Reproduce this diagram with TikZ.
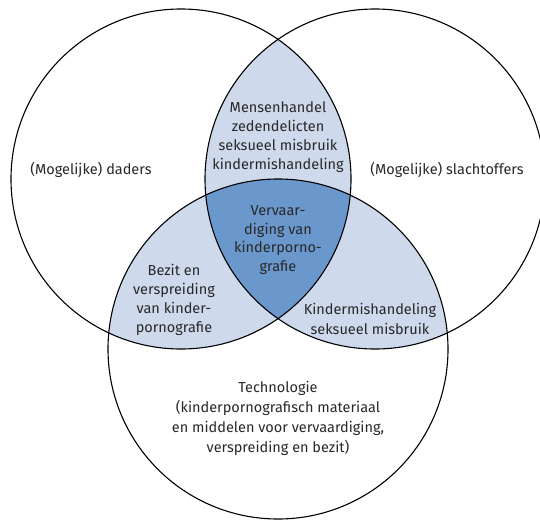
\documentclass[tikz,border=0pt]{standalone}
\usepackage{fontspec}
\setmainfont{Fira Sans}[Scale=1]
\definecolor{lightblue}{RGB}{206,217,236}
\definecolor{darkblue}{RGB}{106,151,204}
\definecolor{txt}{RGB}{40,40,40}
\begin{document}
\begin{tikzpicture}[x=1pt,y=-1pt,
  lbl/.style={align=center,font=\fontsize{14.5}{19.2}\selectfont,text=txt,inner sep=0pt},
  ring/.style={draw=black,line width=1.1pt}]
\useasboundingbox (0,0) rectangle (540,519);
\clip (0,0) rectangle (540,519);
\coordinate (L) at (181,179);
\coordinate (R) at (375,179);
\coordinate (B) at (278,349);
\def\rad{170}
% pairwise overlaps
\begin{scope}
  \clip (L) circle[radius=\rad];
  \fill[lightblue] (R) circle[radius=\rad];
  \fill[lightblue] (B) circle[radius=\rad];
\end{scope}
\begin{scope}
  \clip (R) circle[radius=\rad];
  \fill[lightblue] (B) circle[radius=\rad];
\end{scope}
% triple overlap
\begin{scope}
  \clip (L) circle[radius=\rad];
  \clip (R) circle[radius=\rad];
  \fill[darkblue] (B) circle[radius=\rad];
\end{scope}
\draw[ring] (L) circle[radius=\rad];
\draw[ring] (R) circle[radius=\rad];
\draw[ring] (B) circle[radius=\rad];
% labels
\node[lbl] (daders) at (91,170) {(Mogelijke) daders};
\node[lbl] (slacht) at (447,170) {(Mogelijke) slachtoffers};
\node[lbl] (top) at (278,137) {Mensenhandel\\zedendelicten\\seksueel misbruik\\kindermishandeling};
\node[lbl,font=\fontsize{14.5}{18.6}\selectfont] (mid) at (278,240) {Vervaar-\\diging van\\kinderporno-\\grafie};
\node[lbl] (left) at (174,300) {Bezit en\\verspreiding\\van kinder-\\pornografie};
\node[lbl] (right) at (370,319) {Kindermishandeling\\seksueel misbruik};
\node[lbl,font=\fontsize{14.5}{20}\selectfont] (tech) at (278,418) {Technologie\\(kinderpornografisch materiaal\\en middelen voor vervaardiging,\\verspreiding en bezit)};
\end{tikzpicture}
\end{document}
